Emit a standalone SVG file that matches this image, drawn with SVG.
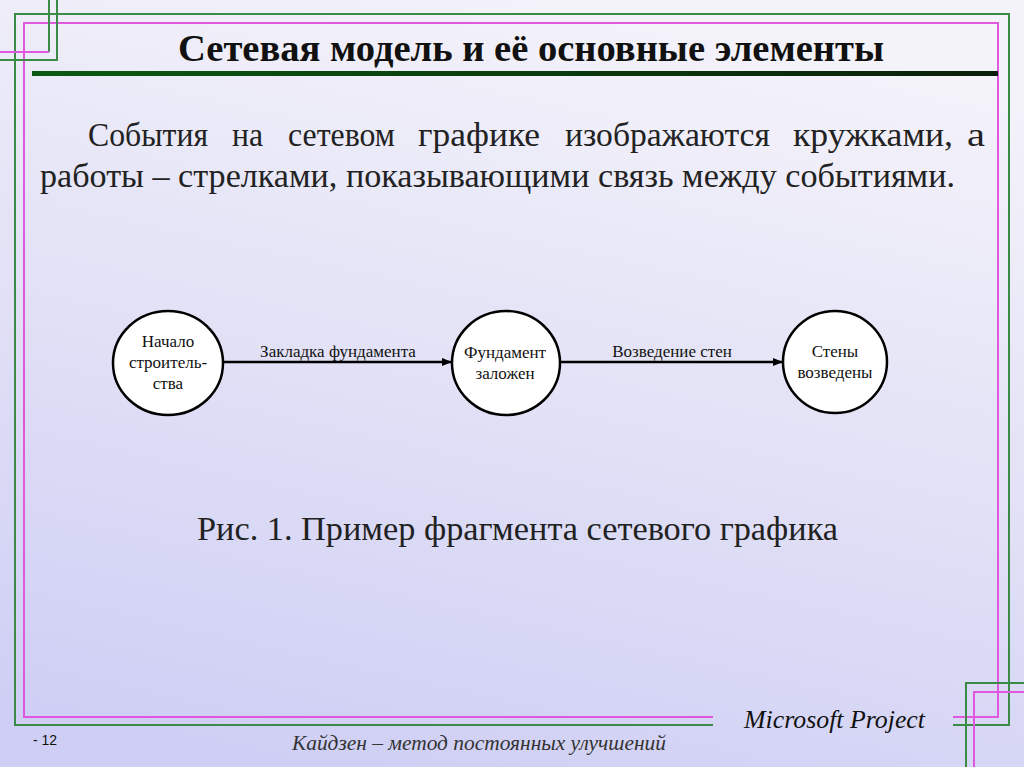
<svg xmlns="http://www.w3.org/2000/svg" width="1024" height="767" viewBox="0 0 1024 767">
<defs>
<linearGradient id="bg" x1="0.6" y1="0" x2="0.3" y2="1">
<stop offset="0" stop-color="#f4f3fa"/>
<stop offset="0.5" stop-color="#e2e1f6"/>
<stop offset="1" stop-color="#cfcff5"/>
</linearGradient>
<linearGradient id="bar" x1="0" y1="0" x2="1" y2="0">
<stop offset="0" stop-color="#0b5a12"/>
<stop offset="1" stop-color="#0a1f0a"/>
</linearGradient>
<marker id="arr" viewBox="0 0 10 10" refX="10" refY="5" markerWidth="10" markerHeight="10" markerUnits="userSpaceOnUse" orient="auto">
<path d="M0,1 L10,5 L0,9 Z" fill="#000"/>
</marker>
<style>
.g{stroke:#3b8a45;stroke-width:2;fill:none}
.p{stroke:#e058e0;stroke-width:2;fill:none}
.node{fill:#fff;stroke:#000;stroke-width:2.5}
.nt{font-family:"Liberation Serif",serif;font-size:17px;fill:#111;text-anchor:middle}
.lt{font-family:"Liberation Serif",serif;font-size:17px;fill:#111;text-anchor:middle}
.edge{stroke:#000;stroke-width:2.5;fill:none}
.body{font-family:"Liberation Serif",serif;font-size:33.5px;fill:#222}
</style>
</defs>
<rect width="1024" height="767" fill="url(#bg)"/>
<g id="frame">
<polyline class="g" points="713,725 15,725 15,14 1009,14 1009,725 953,725"/>
<polyline class="p" points="713,717 24,717 24,23 998,23 998,717 953,717"/>
<polyline class="g" points="49,0 49,52"/>
<polyline class="p" points="0,52 49,52"/>
<polyline class="g" points="57,0 57,60 0,60"/>
<polyline class="g" points="1024,683 966,683 966,767"/>
<polyline class="p" points="1024,692 974,692 974,767"/>
</g>
<g id="title">
<text x="178" y="61" font-family="Liberation Serif,serif" font-size="37" font-weight="bold" fill="#111" textLength="706" lengthAdjust="spacingAndGlyphs">Сетевая модель и её основные элементы</text>
<rect x="32" y="71" width="966" height="5" fill="url(#bar)"/>
</g>
<g id="paragraph" class="body">
<text x="88" y="146" textLength="120" lengthAdjust="spacingAndGlyphs">События</text>
<text x="232" y="146" textLength="31" lengthAdjust="spacingAndGlyphs">на</text>
<text x="288" y="146" textLength="107" lengthAdjust="spacingAndGlyphs">сетевом</text>
<text x="418" y="146" textLength="122" lengthAdjust="spacingAndGlyphs">графике</text>
<text x="565" y="146" textLength="205" lengthAdjust="spacingAndGlyphs">изображаются</text>
<text x="793" y="146" textLength="160" lengthAdjust="spacingAndGlyphs">кружками,</text>
<text x="967" y="146" textLength="18" lengthAdjust="spacingAndGlyphs">а</text>
<text x="40" y="187" textLength="915" lengthAdjust="spacingAndGlyphs">работы – стрелками, показывающими связь между событиями.</text>
</g>
<g id="connectors">
<line class="edge" x1="223" y1="362" x2="452" y2="362" marker-end="url(#arr)"/>
<text class="lt" x="338" y="357">Закладка фундамента</text>
<line class="edge" x1="560" y1="362" x2="783" y2="362" marker-end="url(#arr)"/>
<text class="lt" x="672" y="357">Возведение стен</text>
</g>
<g id="node1">
<ellipse class="node" cx="168" cy="363" rx="55" ry="52"/>
<text class="nt" x="168" y="347">Начало</text>
<text class="nt" x="168" y="368">строитель-</text>
<text class="nt" x="168" y="389">ства</text>
</g>
<g id="node2">
<ellipse class="node" cx="506" cy="363" rx="54" ry="52"/>
<text class="nt" x="505" y="358">Фундамент</text>
<text class="nt" x="505" y="379">заложен</text>
</g>
<g id="node3">
<ellipse class="node" cx="835" cy="362" rx="52" ry="51"/>
<text class="nt" x="835" y="357">Стены</text>
<text class="nt" x="835" y="378">возведены</text>
</g>
<g id="caption">
<text x="197" y="540" font-family="Liberation Serif,serif" font-size="34" fill="#222" textLength="641" lengthAdjust="spacingAndGlyphs">Рис. 1. Пример фрагмента сетевого графика</text>
</g>
<g id="footer">
<text x="744" y="728" font-family="Liberation Serif,serif" font-size="26" font-style="italic" fill="#111" textLength="181" lengthAdjust="spacingAndGlyphs">Microsoft Project</text>
<text x="33" y="745" font-family="Liberation Sans,sans-serif" font-size="14" fill="#111">- 12</text>
<text x="292" y="750" font-family="Liberation Serif,serif" font-size="21" font-style="italic" fill="#333" textLength="374" lengthAdjust="spacingAndGlyphs">Кайдзен – метод постоянных улучшений</text>
</g>
</svg>
